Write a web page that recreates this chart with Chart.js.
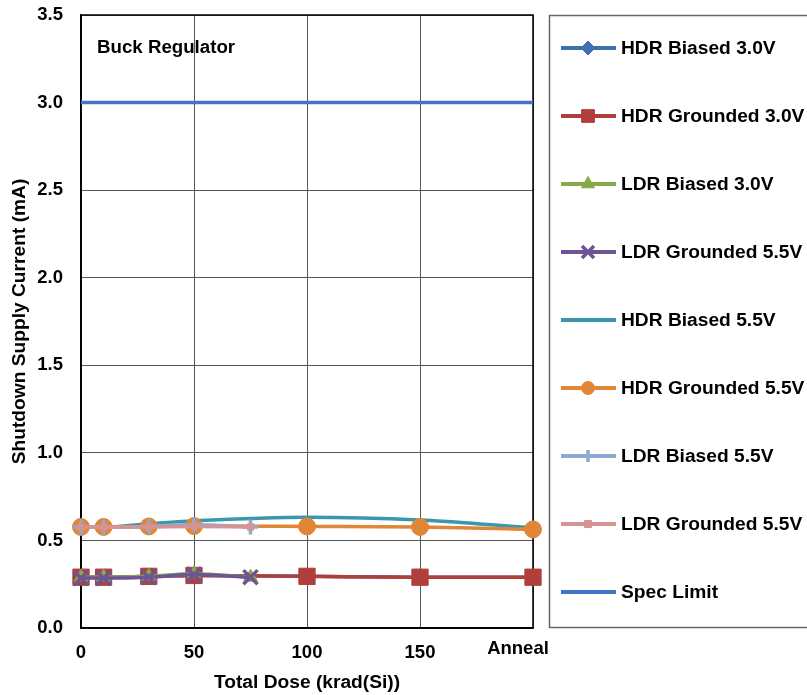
<!DOCTYPE html>
<html>
<head>
<meta charset="utf-8">
<script src="https://cdn.jsdelivr.net/npm/chart.js@4.4.0/dist/chart.umd.min.js"></script>
<style>
html,body{margin:0;padding:0;background:#fff;}
#wrap{width:807px;height:695px;position:relative;}
</style>
</head>
<body>
<div id="wrap"><canvas id="c" width="807" height="695"></canvas></div>
<script>
// Dose points (Anneal plotted at 200)
const hdrDose = [0, 10, 30, 50, 100, 150, 200];
const ldrDose = [0, 10, 30, 50, 75];
const tickLabels = {0:'0', 50:'50', 100:'100', 150:'150', 200:'Anneal'};

const hdrBiased30   = [0.29, 0.29, 0.295, 0.30, 0.295, 0.29, 0.29];
const hdrGrounded30 = [0.29, 0.29, 0.295, 0.30, 0.295, 0.29, 0.29];
const ldrBiased30   = [0.29, 0.29, 0.295, 0.31, 0.29];
const ldrGrounded55 = [0.285, 0.285, 0.29, 0.305, 0.29];
const hdrBiased55   = [0.575, 0.575, 0.595, 0.612, 0.633, 0.617, 0.572];
const hdrGrounded55 = [0.577, 0.577, 0.58, 0.582, 0.58, 0.577, 0.563];
const ldrBiased55   = [0.575, 0.575, 0.58, 0.59, 0.577];
const ldrGround55b  = [0.575, 0.575, 0.577, 0.58, 0.577];
const specDose  = [0, 200];
const specLimit = [3.0, 3.0];

function pts(xs, ys){ return xs.map((x,i)=>({x:x, y:ys[i]})); }

// r: marker radius in plot, lr: marker radius in legend
const series = [
  {label:'HDR Biased 3.0V', xs:hdrDose, ys:hdrBiased30, color:'#3E6FB0', style:'rectRot', r:8, lr:7},
  {label:'HDR Grounded 3.0V', xs:hdrDose, ys:hdrGrounded30, color:'#B03F3C', style:'rect', r:11.5, lr:9},
  {label:'LDR Biased 3.0V', xs:ldrDose, ys:ldrBiased30, color:'#86A94A', style:'triangle', r:8, lr:7.5},
  {label:'LDR Grounded 5.5V', xs:ldrDose, ys:ldrGrounded55, color:'#6E5494', style:'crossRot', r:10, lr:8.5},
  {label:'HDR Biased 5.5V', xs:hdrDose, ys:hdrBiased55, color:'#3A97AE', style:false, r:0, lr:0},
  {label:'HDR Grounded 5.5V', xs:hdrDose, ys:hdrGrounded55, color:'#E08637', style:'circle', r:8.5, lr:6.5},
  {label:'LDR Biased 5.5V', xs:ldrDose, ys:ldrBiased55, color:'#8EA9D2', style:'cross', r:7.5, lr:6},
  {label:'LDR Grounded 5.5V', xs:ldrDose, ys:ldrGround55b, color:'#D69391', style:'rect', r:4.5, lr:5},
  {label:'Spec Limit', xs:specDose, ys:specLimit, color:'#4472C4', style:false, r:0, lr:0}
];
const N = series.length;
const FAM = '"Liberation Sans", Arial, sans-serif';
const isCross = (st)=> st==='cross' || st==='crossRot';

const datasets = series.map((s,i)=>({
  label: s.label,
  data: pts(s.xs, s.ys),
  borderColor: s.color,
  backgroundColor: s.color,
  borderWidth: 3.5,
  pointStyle: s.style,
  pointRadius: s.r,
  pointBorderWidth: isCross(s.style) ? 3.5 : 1,
  pointBorderColor: s.color,
  pointBackgroundColor: s.color,
  tension: 0.3,
  cubicInterpolationMode: 'monotone',
  order: N - i,
  clip: false
}));

const frame = {
  id:'frame',
  beforeDatasetsDraw(chart){
    const a = chart.chartArea, ctx = chart.ctx;
    ctx.save();
    ctx.strokeStyle = '#000';
    ctx.lineWidth = 1.5;
    ctx.strokeRect(a.left, a.top, a.right-a.left, a.bottom-a.top);
    ctx.font = 'bold 18.7px ' + FAM;
    ctx.fillStyle = '#000';
    ctx.textBaseline = 'middle';
    ctx.textAlign = 'left';
    ctx.fillText('Buck Regulator', 97, 48);
    // last category label sits left of its tick in the original
    const xs = chart.scales.x;
    ctx.font = 'bold 18.5px ' + FAM;
    ctx.textAlign = 'center';
    ctx.fillText(tickLabels[200], xs.getPixelForValue(200) - 15, 649);
    ctx.restore();
  },
  afterDraw(chart){
    const ctx = chart.ctx;
    ctx.save();
    ctx.strokeStyle = '#666';
    ctx.lineWidth = 1.5;
    ctx.strokeRect(549.5, 15.5, 270, 612);
    series.forEach((s,i)=>{
      const y = 48 + i*68;
      ctx.strokeStyle = s.color;
      ctx.lineWidth = 4;
      ctx.beginPath();
      ctx.moveTo(561, y); ctx.lineTo(616, y);
      ctx.stroke();
      if (s.style){
        const bw = isCross(s.style) ? 3.5 : 1;
        ctx.fillStyle = s.color; ctx.strokeStyle = s.color; ctx.lineWidth = bw;
        Chart.helpers.drawPoint(ctx, {pointStyle:s.style, radius:s.lr, borderWidth:bw, rotation:0}, 588, y);
      }
      ctx.font = 'bold 19.2px ' + FAM;
      ctx.textBaseline = 'middle';
      ctx.textAlign = 'left';
      ctx.fillStyle = '#000';
      ctx.fillText(s.label, 621, y+1);
    });
    ctx.restore();
  }
};

const tickFont = {family:FAM, size:18.5, weight:'bold'};
const titleFont = {family:FAM, size:19.2, weight:'bold'};

new Chart(document.getElementById('c'), {
  type:'line',
  data:{datasets},
  plugins:[frame],
  options:{
    responsive:false,
    animation:false,
    devicePixelRatio:1,
    layout:{padding:{left:0, top:15, right:274, bottom:0}},
    plugins:{legend:{display:false}, tooltip:{enabled:false}},
    scales:{
      x:{
        type:'linear', min:0, max:200,
        afterFit(s){ s.height = 67; s.paddingLeft = 0; s.paddingRight = 0; },
        afterBuildTicks(s){ s.ticks = [0,50,100,150,200].map(v=>({value:v})); },
        ticks:{callback:(v)=> v===200 ? '' : tickLabels[v], font:tickFont, color:'#000', padding:14, maxRotation:0, autoSkip:false},
        grid:{color:'#555', lineWidth:1, drawTicks:false},
        border:{color:'#000', width:1.5},
        title:{display:true, text:'Total Dose (krad(Si))', font:titleFont, color:'#000', padding:{top:4,bottom:1}}
      },
      y:{
        min:0, max:3.5,
        afterFit(s){ s.width = 81; s.paddingTop = 0; s.paddingBottom = 0; },
        ticks:{stepSize:0.5, callback:(v)=>v.toFixed(1), font:tickFont, color:'#000', padding:18},
        grid:{color:'#555', lineWidth:1, drawTicks:false},
        border:{color:'#000', width:1.5},
        title:{display:true, text:'Shutdown Supply Current (mA)', font:titleFont, color:'#000', padding:{top:8,bottom:0}}
      }
    }
  }
});
</script>
</body>
</html>
